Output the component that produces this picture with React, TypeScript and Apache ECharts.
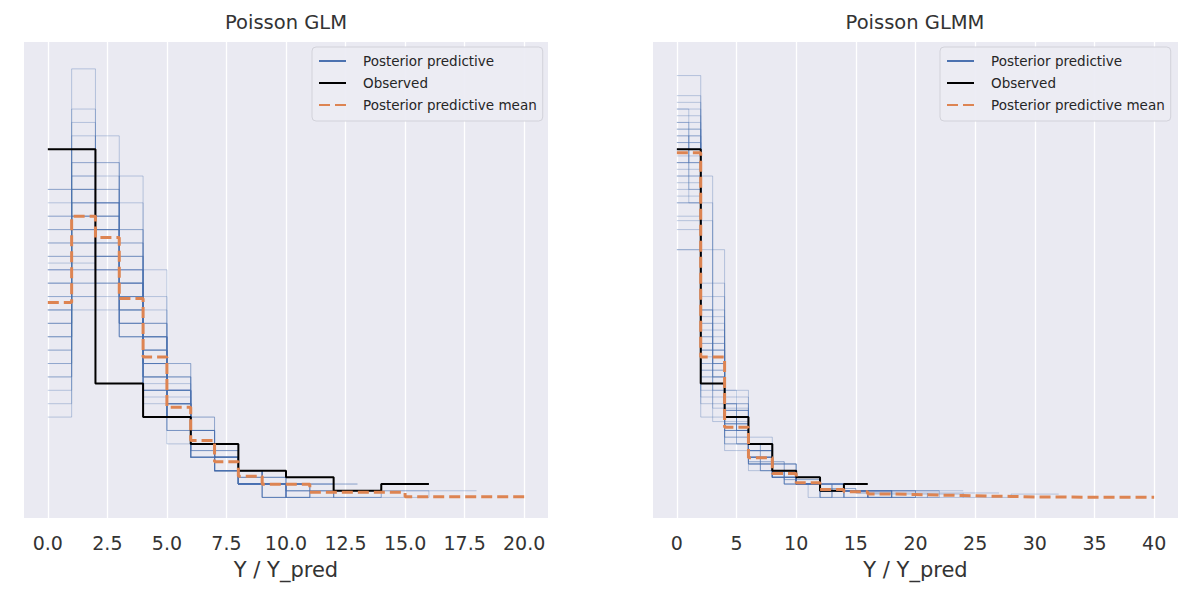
import React, { useEffect, useRef } from 'react';
import * as echarts from 'echarts';

const FONT = '"DejaVu Sans", "Noto Sans", sans-serif';
const BLUE = '#4C72B0';
const ORANGE = '#DD8452';
const TEXT = '#333333';

// tick values on the x axes
const glmTicks = [0, 2.5, 5, 7.5, 10, 12.5, 15, 17.5, 20];
const glmmTicks = [0, 5, 10, 15, 20, 25, 30, 35, 40];

// observed counts, bins of width 2 from 0 (same data in both panels)
const observedCounts = [52, 17, 12, 8, 4, 3, 1, 2];

// posterior predictive mean, density per bin
const glmMeanDensity = [0.147, 0.212, 0.196, 0.15, 0.106, 0.068, 0.043, 0.027, 0.016, 0.01, 0.01, 0.004, 0.004, 0.004, 0.004, 0.0005, 0.0005, 0.0005, 0.0005, 0.0005]; // width 1
const glmmMeanDensity = [0.26, 0.106, 0.053, 0.03, 0.018, 0.011, 0.006, 0.0043, 0.0026, 0.0022, 0.0018, 0.0015, 0.001, 0.0008, 0.0004, 0.0003, 0.0002, 0.0002, 0.0002, 0.0002]; // width 2

// posterior predictive draws (counts per bin), Poisson GLM
const glmSamplesW1 = [
  [15, 22, 20, 15, 10, 7, 4, 3, 1, 1, 1],
  [10, 18, 22, 18, 12, 8, 5, 3, 2, 1],
  [20, 25, 18, 12, 9, 6, 4, 2, 2, 0, 1],
  [12, 20, 24, 16, 11, 6, 4, 3, 1, 1, 0, 1],
  [8, 16, 19, 20, 14, 9, 6, 3, 2, 1, 1],
  [18, 24, 21, 13, 9, 6, 3, 2, 1, 1, 0, 0, 1],
  [23, 28, 17, 12, 8, 5, 3, 2, 1],
  [14, 19, 21, 17, 12, 7, 4, 2, 1, 1, 1],
  [16, 23, 19, 14, 10, 7, 5, 2, 2, 1],
  [11, 21, 23, 15, 12, 8, 4, 3, 1, 0, 1],
  [13, 25, 16, 16, 11, 6, 5, 3, 2, 1, 0, 1],
  [17, 20, 22, 14, 9, 8, 4, 2, 1, 1, 1],
  [9, 17, 20, 19, 15, 8, 5, 3, 2, 1],
  [21, 23, 20, 13, 9, 6, 3, 2, 1, 0, 1],
  [6, 14, 21, 22, 17, 10, 5, 2, 1, 1],
  [15, 27, 25, 12, 8, 5, 3, 2, 1, 1],
  [12, 16, 18, 17, 13, 10, 6, 3, 2, 1, 0, 1],
  [19, 21, 17, 15, 10, 7, 4, 3, 1, 1, 1],
  [14, 22, 18, 15, 12, 8, 4, 3, 1, 1, 0, 0, 1],
  [10, 20, 20, 18, 12, 7, 5, 3, 2, 1, 1],
  [16, 32, 20, 12, 8, 5, 3, 2, 1],
  [17, 29, 22, 13, 8, 4, 3, 2, 1],
  [13, 18, 27, 16, 10, 6, 4, 2, 1, 1, 1],
  [7, 15, 22, 24, 13, 9, 4, 3, 1, 1],
  [18, 26, 19, 14, 9, 6, 3, 2, 1, 1],
  [11, 19, 25, 17, 11, 7, 4, 3, 1, 1],
  [22, 20, 18, 14, 10, 6, 4, 2, 2, 1],
  [9, 21, 17, 19, 13, 9, 5, 3, 1, 1, 1],
  [14, 24, 23, 13, 10, 7, 4, 2, 1, 1],
  [16, 17, 20, 18, 11, 8, 4, 2, 2, 0, 1],
  [12, 23, 21, 16, 12, 6, 4, 2, 1, 1, 1],
  [20, 22, 16, 16, 11, 6, 3, 3, 1, 1],
  [13, 15, 22, 20, 12, 8, 5, 2, 1, 1],
  [17, 26, 18, 13, 10, 7, 4, 2, 1, 0, 0, 1],
];
const glmSamplesW2 = [
  [46, 28, 14, 6, 3, 1, 0, 1],
  [38, 32, 16, 7, 3, 1, 1, 1],
  [42, 30, 15, 7, 3, 1, 0, 0, 1],
  [35, 34, 17, 7, 3, 1, 0, 2],
];

// posterior predictive draws (counts per bin), Poisson GLMM
const glmmSamplesW1 = [
  [29, 24, 14, 9, 6, 5, 3, 2, 2, 1, 1, 1, 1, 0, 1],
  [26, 27, 11, 10, 6, 4, 4, 3, 2, 2, 1, 1, 1, 1],
  [24, 23, 24, 8, 6, 4, 3, 2, 2, 1, 1, 0, 1],
  [27, 22, 13, 11, 7, 5, 4, 3, 2, 1, 1, 1, 0, 1, 1],
  [28, 25, 12, 10, 7, 5, 3, 3, 2, 1, 1, 1, 0, 1],
  [25, 26, 14, 9, 8, 5, 3, 2, 2, 2, 1, 1, 0, 0, 1],
];
const glmmSamplesW2 = [
  [52, 21, 11, 6, 4, 2, 1, 1, 1],
  [58, 18, 9, 5, 3, 2, 2, 1, 1],
  [45, 25, 12, 7, 4, 3, 1, 1, 0, 1],
  [63, 14, 8, 5, 3, 2, 1, 1, 1, 0, 1],
  [49, 24, 10, 7, 4, 2, 1, 1, 1],
  [55, 20, 12, 5, 3, 2, 1, 0, 1],
  [40, 32, 14, 6, 3, 2, 1, 0, 1],
  [53, 17, 13, 7, 4, 2, 1, 1, 0, 0, 1],
  [47, 22, 15, 8, 3, 2, 1, 1],
  [57, 23, 8, 4, 3, 2, 1, 1],
  [50, 19, 11, 9, 5, 2, 2, 1],
  [60, 16, 10, 5, 3, 2, 1, 1, 0, 1],
  [44, 27, 13, 6, 4, 2, 2, 1],
  [54, 15, 16, 6, 3, 3, 1, 1],
  [48, 26, 9, 7, 4, 2, 1, 0, 1, 0, 1],
  [56, 12, 11, 8, 5, 3, 2, 1, 1],
  [37, 30, 14, 8, 4, 2, 2, 1, 1],
  [51, 20, 12, 6, 5, 2, 1, 1, 0, 0, 0, 1],
  [53, 19, 12, 7, 3, 2, 1, 1, 1],
  [59, 17, 10, 5, 3, 2, 1, 1, 0, 1],
  [46, 23, 13, 8, 4, 2, 1, 1, 1],
  [50, 22, 10, 6, 5, 3, 1, 1, 0, 1],
  [55, 18, 11, 7, 3, 2, 2, 1],
  [42, 28, 13, 7, 4, 2, 1, 1, 0, 1],
];
const glmmSamplesW3 = [
  [62, 20, 8, 4, 2, 1, 1, 0, 1],
  [66, 17, 8, 4, 2, 1, 0, 1],
];
const glmmSamplesW4 = [
  [74, 14, 6, 2, 1, 1, 0, 1],
];

const PP = 'Posterior predictive';
const OBS = 'Observed';
const MEAN = 'Posterior predictive mean';

// numpy-style density: count / (total * bin width)
const toDensity = (counts: number[], width: number) => {
  const total = counts.reduce((a, b) => a + b, 0);
  return counts.map(c => c / (total * width));
};

// matplotlib "steps-pre" with the first height repeated
const stepPoints = (heights: number[], width: number) => {
  const pts: number[][] = [[0, heights[0]]];
  heights.forEach((h, i) => {
    if (i > 0) pts.push([i * width, h]);
    pts.push([(i + 1) * width, h]);
  });
  return pts;
};

const sampleSeries = (groups: Array<[number, number[][]]>, axis: number) =>
  groups.flatMap(([width, list]) =>
    list.map(counts => ({
      type: 'line',
      name: PP,
      xAxisIndex: axis,
      yAxisIndex: axis,
      data: stepPoints(toDensity(counts, width), width),
      symbol: 'none',
      silent: true,
      z: 2,
      color: BLUE,
      lineStyle: { color: BLUE, width: 1, opacity: 0.34 }
    }))
  );

const App: React.FC = () => {
  const chartRef = useRef<HTMLDivElement>(null);

  useEffect(() => {
    if (!chartRef.current) return;
    const chart = echarts.init(chartRef.current, undefined, { renderer: 'svg' });

    const grids = [
      { left: 24, top: 42, width: 524, height: 476 },
      { left: 653, top: 42, width: 525, height: 476 }
    ];

    const xAxis = [
      { min: -1, max: 21, ticks: glmTicks, fmt: (v: number) => v.toFixed(1) },
      { min: -2, max: 42, ticks: glmmTicks, fmt: (v: number) => String(v) }
    ].map((a, i) => ({
      type: 'value',
      gridIndex: i,
      min: a.min,
      max: a.max,
      name: 'Y / Y_pred',
      nameLocation: 'middle',
      nameGap: 41,
      nameTextStyle: { fontSize: 21, color: TEXT, fontFamily: FONT },
      axisLine: { show: false },
      axisTick: { show: false, customValues: a.ticks },
      axisLabel: {
        customValues: a.ticks,
        formatter: a.fmt,
        fontSize: 19,
        color: TEXT,
        fontFamily: FONT,
        margin: 15
      },
      splitLine: { show: true, lineStyle: { color: '#ffffff', width: 1.3 } }
    }));

    const yAxis = [0, 1].map(i => ({
      type: 'value',
      gridIndex: i,
      min: -0.0155,
      max: 0.3435,
      show: false,
      splitLine: { show: false }
    }));

    const lineSeries = (name: string, axis: number, pts: number[][], color: string, width: number, type: any, z: number) => ({
      type: 'line',
      name,
      xAxisIndex: axis,
      yAxisIndex: axis,
      data: pts,
      symbol: 'none',
      silent: true,
      z,
      color,
      lineStyle: { color, width, type }
    });

    const series: any[] = [
      // legend swatch for the draws, drawn at full opacity
      lineSeries(PP, 0, [], BLUE, 1.5, 'solid', 1),
      ...sampleSeries([[1, glmSamplesW1], [2, glmSamplesW2]], 0),
      ...sampleSeries([[1, glmmSamplesW1], [2, glmmSamplesW2], [3, glmmSamplesW3], [4, glmmSamplesW4]], 1),
      lineSeries(OBS, 0, stepPoints(toDensity(observedCounts, 2), 2), '#000000', 2, 'solid', 3),
      lineSeries(OBS, 1, stepPoints(toDensity(observedCounts, 2), 2), '#000000', 2, 'solid', 3),
      lineSeries(MEAN, 0, stepPoints(glmMeanDensity, 1), ORANGE, 3, [11, 5], 4),
      lineSeries(MEAN, 1, stepPoints(glmmMeanDensity, 2), ORANGE, 3, [11, 5], 4)
    ];

    chart.setOption({
      animation: false,
      backgroundColor: '#ffffff',
      title: [
        { text: 'Poisson GLM', left: 286 },
        { text: 'Poisson GLMM', left: 915 }
      ].map(t => ({
        ...t,
        top: 12,
        padding: 0,
        textAlign: 'center',
        textStyle: { fontSize: 19.5, fontWeight: 'normal', color: TEXT, fontFamily: FONT }
      })),
      grid: grids.map(g => ({ ...g, show: true, backgroundColor: '#EAEAF2', borderWidth: 0, containLabel: false })),
      legend: [312, 940].map(left => ({
        left,
        top: 47,
        orient: 'vertical',
        data: [PP, OBS, MEAN],
        itemWidth: 27,
        itemHeight: 14,
        itemGap: 8,
        padding: [7, 6, 9, 6],
        backgroundColor: 'rgba(236,236,243,0.92)',
        borderColor: '#d2d2da',
        borderWidth: 1,
        borderRadius: 4,
        selectedMode: false,
        itemStyle: { opacity: 0 },
        textStyle: { fontSize: 13.5, color: '#262626', fontFamily: FONT, padding: [0, 0, 0, 12] }
      })),
      xAxis,
      yAxis,
      series
    });

    return () => {
      chart.dispose();
    };
  }, []);

  return (
    <div
      ref={chartRef}
      style={{ position: 'absolute', left: 0, top: 0, width: 1200, height: 593 }}
    />
  );
};

export default App;
